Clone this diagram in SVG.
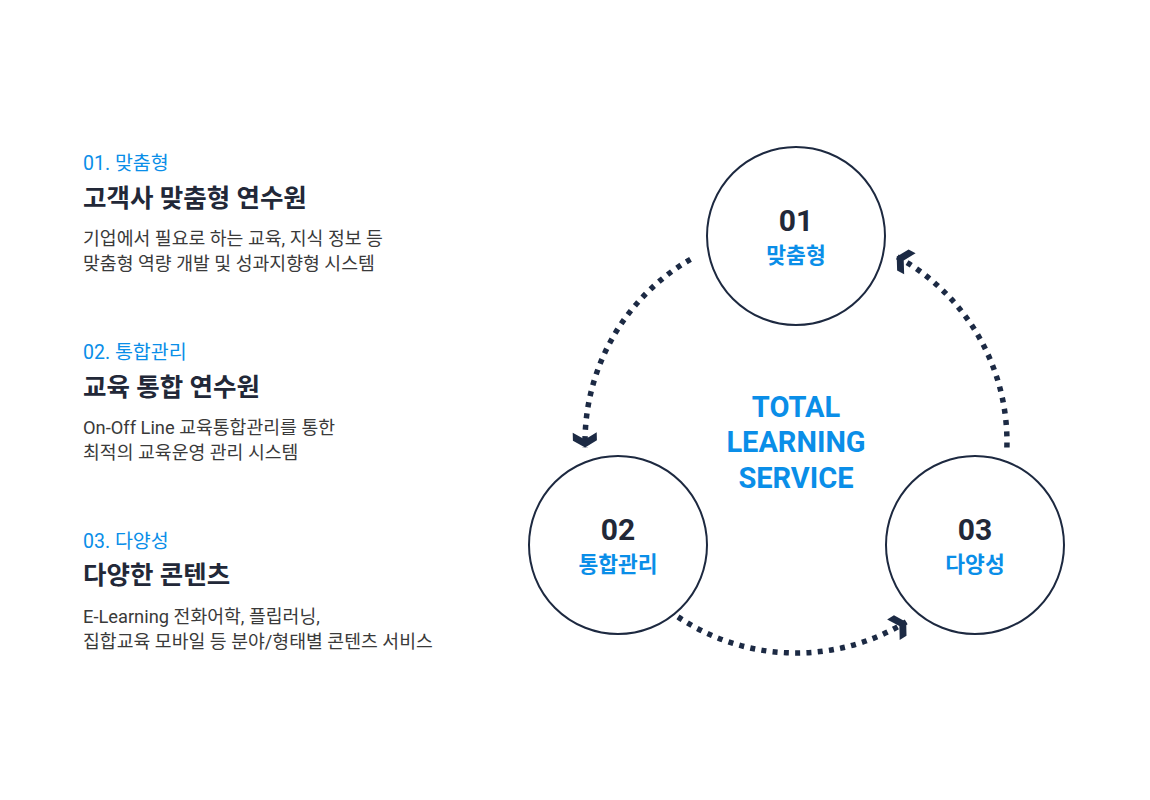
<svg xmlns="http://www.w3.org/2000/svg" width="1150" height="800" viewBox="0 0 1150 800">
<defs>
<style>
.lbl{font-family:Roboto,"Noto Sans CJK KR",sans-serif;font-size:19.5px;fill:#0a8ee8}
.ttl{font-family:Roboto,"Noto Sans CJK KR",sans-serif;font-size:25.5px;font-weight:700;fill:#222838}
.dsc{font-family:Roboto,"Noto Sans CJK KR",sans-serif;font-size:18.3px;fill:#3a3a3a}
.ring{fill:#fff;stroke:#1d2940;stroke-width:2}
.num{font-family:Roboto,"Noto Sans CJK KR",sans-serif;font-size:30px;font-weight:700;fill:#222838;text-anchor:middle}
.nm{font-family:Roboto,"Noto Sans CJK KR",sans-serif;font-size:21.5px;font-weight:700;fill:#0a8ee8;text-anchor:middle}
.big{font-family:Roboto,"Noto Sans CJK KR",sans-serif;font-size:29px;font-weight:700;fill:#0a8ee8;text-anchor:middle}
.arc{fill:none;stroke:#1c2a44;stroke-width:5.5;stroke-dasharray:5 6.3;marker-end:url(#chev)}
</style>
<marker id="chev" markerUnits="userSpaceOnUse" orient="auto" refX="0" refY="0" markerWidth="40" markerHeight="40" overflow="visible">
<path d="M-15,-12 L-7,-12 L0,0 L-7,12 L-15,12 L-8,0 Z" fill="#1c2a44"/>
</marker>
</defs>
<rect width="1150" height="800" fill="#fff"/>

<g id="text-01">
<text class="lbl" x="83" y="170">01. 맞춤형</text>
<text class="ttl" x="83" y="207">고객사 맞춤형 연수원</text>
<text class="dsc" x="83" y="245">기업에서 필요로 하는 교육, 지식 정보 등</text>
<text class="dsc" x="83" y="270">맞춤형 역량 개발 및 성과지향형 시스템</text>
</g>
<g id="text-02">
<text class="lbl" x="83" y="359">02. 통합관리</text>
<text class="ttl" x="83" y="396">교육 통합 연수원</text>
<text class="dsc" x="83" y="434">On-Off Line 교육통합관리를 통한</text>
<text class="dsc" x="83" y="459">최적의 교육운영 관리 시스템</text>
</g>
<g id="text-03">
<text class="lbl" x="83" y="548">03. 다양성</text>
<text class="ttl" x="83" y="584">다양한 콘텐츠</text>
<text class="dsc" x="83" y="623">E-Learning 전화어학, 플립러닝,</text>
<text class="dsc" x="83" y="648">집합교육 모바일 등 분야/형태별 콘텐츠 서비스</text>
</g>

<g id="connectors">
<path class="arc" d="M690.5,259.3 A211,211 0 0 0 585.1,447.5"/>
<path class="arc" d="M678,616.9 A211,211 0 0 0 906.2,621.9"/>
<path class="arc" d="M1006.9,447.5 A211,211 0 0 0 896.7,256.6"/>
</g>

<g id="center">
<text class="big" x="796" y="417">TOTAL</text>
<text class="big" x="796" y="452">LEARNING</text>
<text class="big" x="796" y="488">SERVICE</text>
</g>

<g id="node-01">
<circle class="ring" cx="796" cy="236" r="89"/>
<text class="num" x="796" y="231">01</text>
<text class="nm" x="796" y="263">맞춤형</text>
</g>
<g id="node-02">
<circle class="ring" cx="618" cy="545" r="89"/>
<text class="num" x="618" y="540">02</text>
<text class="nm" x="618" y="572">통합관리</text>
</g>
<g id="node-03">
<circle class="ring" cx="975" cy="545" r="89"/>
<text class="num" x="975" y="540">03</text>
<text class="nm" x="975" y="572">다양성</text>
</g>
</svg>
